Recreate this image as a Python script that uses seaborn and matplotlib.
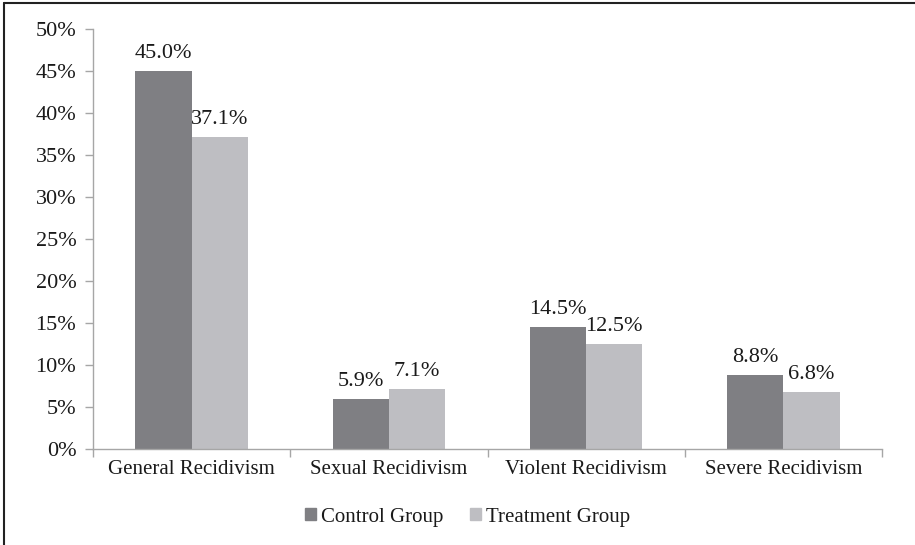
import matplotlib
matplotlib.use("Agg")
import matplotlib.pyplot as plt
import numpy as np
import pandas as pd
import seaborn as sns
from matplotlib.lines import Line2D
from matplotlib.patches import Patch
from matplotlib.ticker import PercentFormatter, FixedLocator

categories = ["General Recidivism", "Sexual Recidivism", "Violent Recidivism", "Severe Recidivism"]
groups = ["Control Group", "Treatment Group"]
control_values = [45.0, 5.9, 14.5, 8.8]
treatment_values = [37.1, 7.1, 12.5, 6.8]
y_ticks = [0, 5, 10, 15, 20, 25, 30, 35, 40, 45, 50]

colors = ["#7f7f83", "#bebec2"]
text_color = "#1a1a1a"
axis_color = "#a6a6a6"
fs = 15      # category / legend text
fs_num = 16  # percentages

df = pd.DataFrame({
    "category": categories * 2,
    "group": [groups[0]] * len(categories) + [groups[1]] * len(categories),
    "value": control_values + treatment_values,
})

sns.set_theme(style="white")
plt.rcParams["font.family"] = ["Liberation Serif", "DejaVu Serif"]

fig = plt.figure(figsize=(9.15, 5.45), dpi=100)
ax = fig.add_axes([0.1016, 0.176, 0.8624, 0.771])

sns.barplot(data=df, x="category", y="value", hue="group", order=categories,
            hue_order=groups, palette=colors, width=0.57, saturation=1,
            linewidth=0, ax=ax, legend=False)

for cont in ax.containers:
    ax.bar_label(cont, fmt="%.1f%%", padding=6, fontsize=fs_num, color=text_color)

ax.set_ylim(0, 50)
ax.set_xlim(-0.5, len(categories) - 0.5)
ax.set_yticks(y_ticks)
ax.yaxis.set_major_formatter(PercentFormatter(decimals=0))
ax.set_xlabel("")
ax.set_ylabel("")

# category boundary ticks below the axis
ax.xaxis.set_minor_locator(FixedLocator(np.arange(-0.5, len(categories), 1.0)))
ax.tick_params(axis="x", which="major", length=0, pad=8, labelsize=fs, labelcolor=text_color)
ax.tick_params(axis="x", which="minor", bottom=True, length=6, width=1, color=axis_color)
ax.tick_params(axis="y", left=True, length=6, width=1, color=axis_color, pad=6,
               labelsize=fs_num, labelcolor=text_color)

for side in ["top", "right"]:
    ax.spines[side].set_visible(False)
for side in ["left", "bottom"]:
    ax.spines[side].set_color(axis_color)
    ax.spines[side].set_linewidth(1)

handles = [Patch(color=c) for c in colors]
fig.legend(handles, groups, loc="center", bbox_to_anchor=(0.511, 0.051), ncol=2,
           frameon=False, fontsize=fs, handlelength=0.5, handleheight=0.5,
           handletextpad=0.25, columnspacing=1.3, labelcolor=text_color)

# the frame of the original is cropped: only the top and left edges show
fig.add_artist(Line2D([0.004, 1.0], [0.995, 0.995], transform=fig.transFigure,
                      color="#222222", linewidth=1.5))
fig.add_artist(Line2D([0.004, 0.004], [0.0, 0.995], transform=fig.transFigure,
                      color="#222222", linewidth=1.5))

fig.savefig("out.png", dpi=100)
